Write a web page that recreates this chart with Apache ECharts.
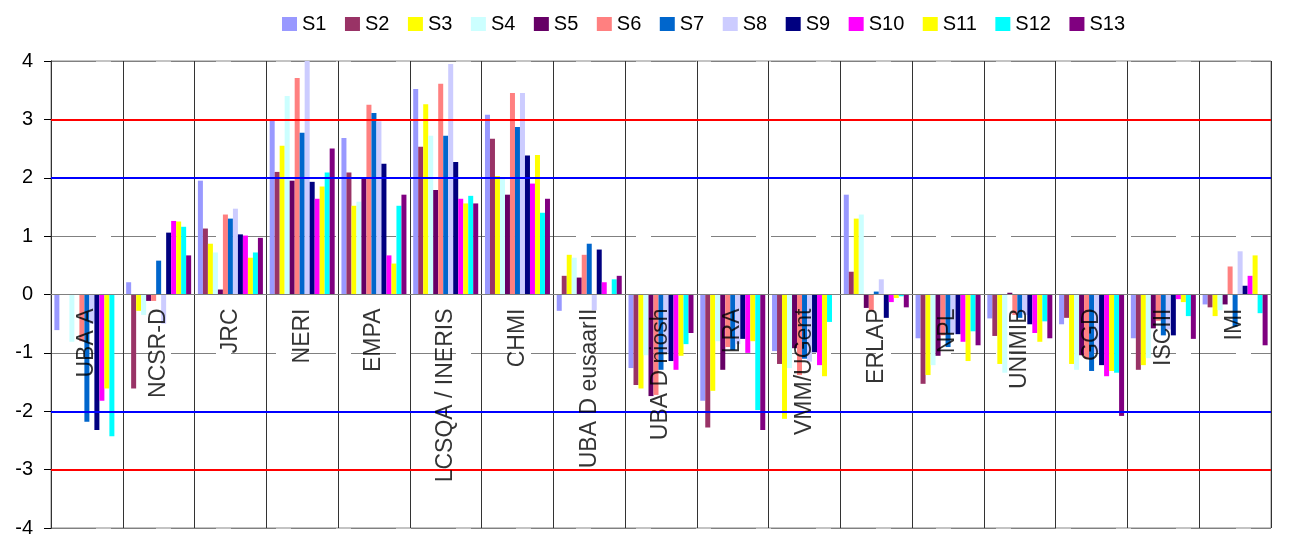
<!DOCTYPE html>
<html>
<head>
<meta charset="utf-8">
<script src="https://cdn.jsdelivr.net/npm/echarts@6/dist/echarts.min.js"></script>
<style>
html,body{margin:0;padding:0;background:#fff;}
#chart{width:1289px;height:538px;}
</style>
</head>
<body>
<div id="chart"></div>
<script>
const categories = ['UBA A','NCSR-D','JRC','NERI','EMPA','LCSQA / INERIS','CHMI','UBA D eusaarII','UBA D niosh','LRA','VMM/UGent','ERLAP','NPL','UNIMIB','GGD','ISCIII','IMI'];
const seriesNames = ['S1','S2','S3','S4','S5','S6','S7','S8','S9','S10','S11','S12','S13'];
const seriesColors = ['#9999FF','#993366','#FFFF00','#CCFFFF','#660066','#FF8080','#0066CC','#CCCCFF','#000080','#FF00FF','#FFFF00','#00FFFF','#800080'];

const s1  = [-0.61, 0.21, 1.95, 2.99, 2.68, 3.52, 3.08, -0.28, -1.26, -1.82, -0.97, 1.71, -0.75, -0.41, -0.51, -0.75, -0.17];
const s2  = [null, -1.61, 1.13, 2.10, 2.09, 2.53, 2.67, 0.32, -1.55, -2.28, -1.19, 0.39, -1.53, -0.71, -0.40, -1.29, -0.22];
const s3  = [null, -0.28, 0.87, 2.55, 1.52, 3.26, 2.03, 0.68, -1.61, -1.65, -2.13, 1.30, -1.38, -1.19, -1.19, -1.21, -0.37];
const s4  = [-0.81, -0.35, 0.72, 3.40, 1.59, 2.72, 1.98, 0.63, -1.04, -0.80, -1.26, 1.37, -1.21, -1.34, -1.29, -1.09, -0.27];
const s5  = [null, -0.11, 0.085, 1.95, 1.98, 1.79, 1.71, 0.29, -1.74, -1.29, -0.92, -0.23, -1.05, 0.03, -1.04, -0.58, -0.17];
const s6  = [-0.80, -0.11, 1.37, 3.71, 3.25, 3.61, 3.45, 0.68, -1.72, -0.90, -1.38, -0.28, -0.70, -0.35, -1.10, -0.45, 0.48];
const s7  = [-2.18, 0.58, 1.30, 2.77, 3.11, 2.72, 2.87, 0.87, -1.29, -0.95, -1.10, 0.05, -0.90, -0.40, -1.31, -0.70, -0.55];
const s8  = [-0.50, -0.50, 1.47, 4.00, 2.97, 3.95, 3.45, -0.27, -1.00, -0.85, -1.15, 0.26, -0.68, -0.35, -1.00, -0.60, 0.74];
const s9  = [-2.32, 1.06, 1.03, 1.93, 2.24, 2.27, 2.38, 0.77, -1.14, -0.76, -0.99, -0.40, -0.68, -0.51, -1.21, -0.70, 0.15];
const s10 = [-1.82, 1.26, 1.01, 1.64, 0.67, 1.64, 1.90, 0.21, -1.29, -1.00, -1.21, -0.13, -0.81, -0.66, -1.40, -0.08, 0.32];
const s11 = [-1.61, 1.25, 0.63, 1.85, 0.53, 1.56, 2.39, null, -1.05, -0.80, -1.40, -0.06, -1.14, -0.81, -1.31, -0.13, 0.67];
const s12 = [-2.43, 1.16, 0.72, 2.09, 1.52, 1.69, 1.40, 0.26, -0.85, -1.98, -0.47, -0.03, -0.63, -0.46, -1.34, -0.37, -0.32];
const s13 = [null, 0.67, 0.97, 2.50, 1.71, 1.56, 1.64, 0.32, -0.66, -2.32, null, -0.22, -0.87, -0.75, -2.08, -0.76, -0.87];
const seriesValues = [s1,s2,s3,s4,s5,s6,s7,s8,s9,s10,s11,s12,s13];

const redLevels = [3, -3];
const blueLevels = [2, -2];

const FONT = "'Liberation Sans', Arial, sans-serif";

const series = seriesNames.map((name, i) => {
  const s = {
    name: name,
    type: 'bar',
    data: seriesValues[i],
    barWidth: 5,
    barGap: '0%',
    itemStyle: { color: seriesColors[i] },
    emphasis: { disabled: true }
  };
  if (i === 0) {
    s.markLine = {
      silent: true,
      symbol: ['none', 'none'],
      label: { show: false },
      animation: false,
      data: redLevels.map(v => ({ yAxis: v, lineStyle: { color: '#FF0000', width: 2, type: 'solid' } }))
        .concat(blueLevels.map(v => ({ yAxis: v, lineStyle: { color: '#0000FF', width: 2, type: 'solid' } })))
    };
  }
  return s;
});

// category labels drawn at the zero line (as in the original chart)
series.push({
  name: 'categoryLabels',
  type: 'scatter',
  silent: true,
  z: 10,
  symbolSize: 0,
  data: categories.map((c, i) => ({ value: [c, 0], name: c })),
  label: {
    show: true,
    position: [0, 14],
    rotate: 90,
    align: 'right',
    verticalAlign: 'middle',
    formatter: p => p.name,
    fontSize: 23,
    color: '#000',
    fontFamily: FONT
  },
  emphasis: { disabled: true },
  tooltip: { show: false }
});

const chart = echarts.init(document.getElementById('chart'), null, { renderer: 'canvas' });
chart.setOption({
  animation: false,
  backgroundColor: '#ffffff',
  textStyle: { fontFamily: FONT },
  legend: {
    data: seriesNames,
    left: 277,
    top: 9,
    itemWidth: 15,
    itemHeight: 14,
    itemGap: 18.5,
    icon: 'rect',
    textStyle: { fontSize: 20, color: '#000', fontFamily: FONT }
  },
  grid: {
    left: 51, right: 18, top: 61, bottom: 10,
    containLabel: false,
    outerBoundsMode: 'none',
    show: true, borderColor: '#888888', borderWidth: 1, backgroundColor: 'transparent'
  },
  xAxis: {
    type: 'category',
    data: categories,
    z: 5,
    axisLine: { onZero: true, lineStyle: { color: '#808080', width: 1 } },
    axisTick: { show: false },
    splitLine: { show: true, interval: 0, lineStyle: { color: '#333333', width: 1 } },
    axisLabel: { show: false }
  },
  yAxis: {
    type: 'value',
    min: -4, max: 4, interval: 1,
    axisLine: { show: true, lineStyle: { color: '#000', width: 1 } },
    axisTick: { show: true, inside: false, length: 7, lineStyle: { color: '#000' } },
    axisLabel: { fontSize: 20, color: '#000', margin: 18, fontFamily: FONT },
    splitLine: { show: true, lineStyle: { color: '#808080', width: 1, type: [45, 15] } }
  },
  series: series
});
</script>
</body>
</html>
